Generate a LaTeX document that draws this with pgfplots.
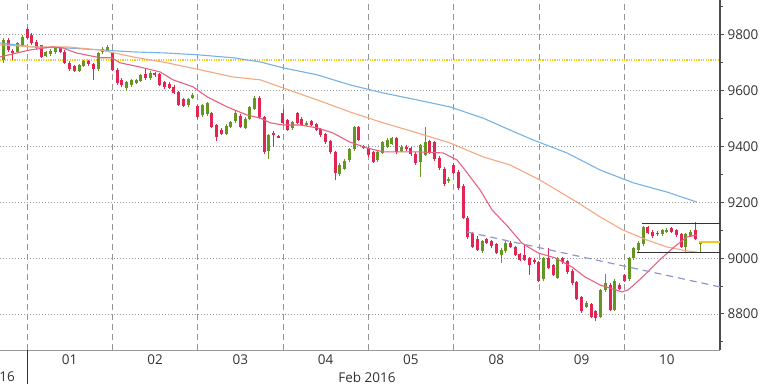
\documentclass[border=0pt]{standalone}
\usepackage{pgfplots}
\pgfplotsset{compat=1.18}
\usepackage{pgfplotstable}
\usepackage{fontspec}
\setmainfont{Open Sans}
\definecolor{cup}{RGB}{100,150,34}
\definecolor{cdn}{RGB}{226,38,84}
\definecolor{mapink}{RGB}{232,96,128}
\definecolor{maorange}{RGB}{244,168,128}
\definecolor{mablue}{RGB}{118,178,228}
\definecolor{yline}{RGB}{240,200,30}
\definecolor{trend}{RGB}{140,150,210}
\definecolor{gridc}{RGB}{150,150,150}

\pgfplotstableread{
i o h l c
0 9710 9790 9700 9782
1 9782 9790 9740 9746
2 9742 9750 9710 9738
3 9740 9775 9735 9770
4 9765 9800 9760 9793
5 9820 9828 9785 9790
6 9798 9805 9765 9770
7 9775 9780 9750 9754
8 9762 9765 9718 9722
9 9725 9742 9720 9737
10 9730 9748 9726 9742
11 9737 9758 9732 9752
12 9752 9756 9735 9740
13 9740 9745 9695 9700
14 9700 9705 9672 9678
15 9688 9692 9668 9672
16 9672 9697 9668 9692
17 9690 9710 9686 9705
18 9705 9710 9690 9695
19 9695 9700 9640 9677
20 9677 9740 9672 9735
21 9737 9755 9733 9750
22 9745 9762 9740 9757
23 9735 9740 9670 9675
24 9675 9680 9622 9628
25 9640 9645 9615 9621
26 9610 9635 9598 9630
27 9620 9642 9615 9638
28 9628 9642 9624 9638
29 9635 9660 9630 9655
30 9660 9680 9640 9645
31 9645 9670 9640 9665
32 9662 9666 9650 9655
33 9660 9665 9618 9622
34 9630 9635 9607 9612
35 9625 9630 9605 9610
36 9615 9620 9587 9592
37 9595 9600 9545 9550
38 9570 9575 9540 9545
39 9548 9575 9543 9570
40 9575 9590 9570 9585
41 9545 9550 9500 9505
42 9512 9553 9507 9548
43 9515 9560 9510 9555
44 9520 9525 9465 9470
45 9477 9482 9420 9435
46 9460 9465 9440 9445
47 9445 9480 9440 9475
48 9470 9492 9465 9487
49 9490 9530 9485 9520
50 9510 9515 9465 9470
51 9468 9505 9463 9500
52 9500 9545 9495 9540
53 9535 9580 9530 9575
54 9575 9580 9500 9505
55 9505 9510 9375 9380
56 9385 9445 9355 9440
57 9450 9455 9400 9440
58 9437 9440 9430 9433
59 9520 9535 9480 9485
60 9495 9500 9455 9460
61 9465 9493 9460 9488
62 9520 9525 9480 9485
63 9500 9505 9473 9478
64 9478 9490 9474 9486
65 9490 9494 9474 9478
66 9480 9485 9455 9460
67 9462 9467 9435 9440
68 9445 9450 9410 9415
69 9420 9425 9375 9380
70 9380 9385 9280 9305
71 9300 9340 9295 9335
72 9320 9355 9315 9350
73 9350 9395 9345 9390
74 9390 9475 9385 9470
75 9470 9475 9420 9425
76 9402 9406 9390 9395
77 9395 9400 9363 9368
78 9380 9385 9340 9345
79 9350 9385 9345 9380
80 9378 9420 9373 9415
81 9400 9430 9395 9425
82 9410 9435 9405 9430
83 9430 9435 9375 9380
84 9385 9405 9380 9400
85 9400 9405 9385 9390
86 9395 9400 9367 9372
87 9375 9380 9335 9340
88 9345 9410 9290 9405
89 9370 9470 9365 9415
90 9420 9425 9375 9380
91 9415 9420 9350 9355
92 9360 9365 9317 9322
93 9320 9325 9260 9265
94 9275 9290 9270 9285
95 9335 9340 9300 9305
96 9310 9315 9245 9250
97 9260 9265 9140 9145
98 9145 9150 9070 9075
99 9090 9095 9035 9040
100 9070 9080 9025 9030
101 9025 9065 9020 9060
102 9068 9073 9050 9055
103 9060 9065 9037 9042
104 9050 9055 9015 9020
105 9012 9035 8982 9030
106 9025 9060 9020 9055
107 9055 9060 9035 9040
108 9040 9045 9007 9012
109 9015 9020 8990 8995
110 9010 9050 8990 8995
111 9000 9005 8940 8975
112 8995 9000 8980 8985
113 8985 8990 8915 8920
114 8925 9005 8920 9000
115 9000 9035 8960 8965
116 8975 8980 8935 8940
117 8930 9005 8925 9000
118 9000 9005 8980 8985
119 8990 8995 8945 8950
120 8955 8960 8905 8910
121 8915 8920 8850 8855
122 8860 8865 8805 8810
123 8825 8845 8820 8840
124 8835 8840 8785 8790
125 8810 8815 8775 8785
126 8790 8890 8785 8885
127 8885 8945 8880 8910
128 8905 8910 8810 8815
129 8815 8925 8810 8920
130 8905 8910 8885 8890
131 8940 8945 8915 8920
132 8925 9005 8920 9000
133 9000 9040 8995 9035
134 9030 9060 9020 9055
135 9050 9115 9045 9110
136 9110 9115 9085 9090
137 9095 9100 9073 9078
138 9092 9096 9080 9085
139 9085 9105 9080 9100
140 9095 9107 9090 9102
141 9108 9112 9090 9095
142 9100 9105 9077 9082
143 9085 9090 9035 9040
144 9040 9090 9020 9085
145 9080 9100 9075 9095
146 9100 9130 9065 9070
147 9050 9062 9022 9058
}\candles

\begin{document}
\begin{tikzpicture}
\useasboundingbox (0,-34bp) rectangle (768bp,350bp);
\begin{axis}[
  at={(0,0)}, anchor=south west,
  scale only axis, width=720bp, height=350bp,
  xmin=-0.7, xmax=151.2, ymin=8671, ymax=9925,
  axis x line=bottom, axis y line=right,
  x axis line style={-, draw=gray!80, line width=1bp},
  y axis line style={-, draw=black!70, line width=1.2bp},
  ytick={8800,9000,9200,9400,9600,9800},
  minor ytick={8700,8900,9100,9300,9500,9700,9900},
  tick align=outside,
  major tick length=4bp, minor tick length=3bp,
  ytick style={draw=black!70, line width=1bp},
  xtick={14,32,50,68,86,104,122,140},
  xticklabels={01,02,03,04,05,08,09,10},
  xtick style={draw=none},
  xticklabel style={yshift=3bp},
  ymajorgrids,
  y grid style={gridc, line width=0.8bp, dash pattern=on 1bp off 2bp},
  tick label style={font=\fontsize{13.5bp}{16bp}\selectfont, text=black!80},
  /pgf/number format/assume math mode=true,
  /pgf/number format/1000 sep={},
]
% day separators
\pgfplotsinvokeforeach{5,23,41,59,77,95,113,131}{
  \addplot[forget plot, gridc, line width=0.8bp, dash pattern=on 6bp off 4bp] coordinates {(#1,8671) (#1,9925)};
}
% level line
\addplot[forget plot, yline, line width=1.3bp, dash pattern=on 1.2bp off 1.2bp] coordinates {(-0.7,9710) (151.2,9710)};

% wicks up
\addplot[draw=none, mark=none, forget plot,
  restrict expr to domain={\thisrow{c}-\thisrow{o}}{0:100000},
  error bars/.cd, y dir=both, y explicit, error mark=none,
  error bar style={draw=cup, line width=0.9bp}]
  table[x=i, y expr={(\thisrow{h}+\thisrow{l})/2}, y error expr={(\thisrow{h}-\thisrow{l})/2}] {\candles};
% wicks down
\addplot[draw=none, mark=none, forget plot,
  restrict expr to domain={\thisrow{o}-\thisrow{c}}{0.5:100000},
  error bars/.cd, y dir=both, y explicit, error mark=none,
  error bar style={draw=cdn, line width=0.9bp}]
  table[x=i, y expr={(\thisrow{h}+\thisrow{l})/2}, y error expr={(\thisrow{h}-\thisrow{l})/2}] {\candles};
% bodies up
\addplot[draw=none, mark=none, forget plot,
  restrict expr to domain={\thisrow{c}-\thisrow{o}}{0:100000},
  error bars/.cd, y dir=both, y explicit, error mark=none,
  error bar style={draw=cup, line width=3bp}]
  table[x=i, y expr={(\thisrow{o}+\thisrow{c})/2}, y error expr={max(abs(\thisrow{o}-\thisrow{c})/2,2)}] {\candles};
% bodies down
\addplot[draw=none, mark=none, forget plot,
  restrict expr to domain={\thisrow{o}-\thisrow{c}}{0.5:100000},
  error bars/.cd, y dir=both, y explicit, error mark=none,
  error bar style={draw=cdn, line width=3bp}]
  table[x=i, y expr={(\thisrow{o}+\thisrow{c})/2}, y error expr={max(abs(\thisrow{o}-\thisrow{c})/2,2)}] {\candles};

% moving averages
\addplot[mablue, line width=1.1bp] coordinates {
(-0.7,9771) (6.3,9757) (13.4,9753) (20.4,9746) (27.4,9739) (34.5,9735) (41.5,9728)
(48.5,9718) (54.2,9703) (59.0,9682) (66.2,9657) (73.1,9621) (80.1,9592) (87.3,9567)
(94.2,9542) (101.2,9502) (106.9,9459) (111.7,9424) (118.9,9377) (125.9,9316)
(132.9,9270) (140.0,9237) (146.3,9201)};
\addplot[maorange, line width=1.1bp] coordinates {
(-0.7,9764) (6.3,9757) (13.4,9757) (20.4,9746) (27.4,9721) (34.5,9700) (41.5,9675)
(48.5,9649) (54.2,9639) (59.0,9610) (66.2,9567) (73.1,9524) (80.1,9485) (87.3,9449)
(94.2,9413) (101.2,9363) (106.9,9334) (113.2,9280) (121.0,9201) (125.9,9148)
(130.7,9101) (135.8,9065) (140.0,9040) (144.2,9026) (146.3,9022)};
\addplot[mapink, line width=1.1bp] coordinates {
(-0.7,9721) (5.6,9746) (10.5,9757) (12.6,9753) (15.5,9735) (20.4,9718) (22.9,9718)
(24.6,9700) (28.8,9685) (33.1,9667) (35.8,9639) (40.0,9614) (43.0,9578) (47.2,9542)
(51.4,9513) (54.2,9502) (56.3,9485) (59.0,9477) (62.6,9477) (66.2,9467) (69.5,9449)
(73.1,9416) (76.7,9395) (80.1,9381) (87.3,9381) (92.8,9377) (95.7,9352) (97.4,9316)
(100.6,9244) (103.1,9173) (106.5,9112) (109.4,9054) (112.8,9019) (116.4,9001)
(120.0,8968) (122.7,8933) (125.9,8904) (130.5,8879) (131.8,8886) (134.9,8933)
(138.5,8994) (141.3,9037) (144.2,9076) (146.3,9083)};

% trend line
\addplot[trend, line width=1.2bp, dash pattern=on 7bp off 5bp] coordinates {(97.8,9094) (151.2,8897)};
% range box
\addplot[black!80, line width=1bp] coordinates {(134.8,9123) (151.2,9123)};
\addplot[black!80, line width=1bp] coordinates {(133.7,9022) (151.2,9022)};
% last price
\addplot[yline, line width=1.1bp] coordinates {(146.8,9058) (151.2,9058)};
\end{axis}
\draw[black!80, line width=1bp] (27bp,0) -- (27bp,-34bp);
\node[anchor=east, font=\fontsize{13.5bp}{16bp}\selectfont, text=black!80, inner sep=0pt] at (15bp,-27bp) {16};
\node[font=\fontsize{13.5bp}{16bp}\selectfont, text=black!80, inner sep=0pt] at (367bp,-27bp) {Feb 2016};
\end{tikzpicture}
\end{document}
